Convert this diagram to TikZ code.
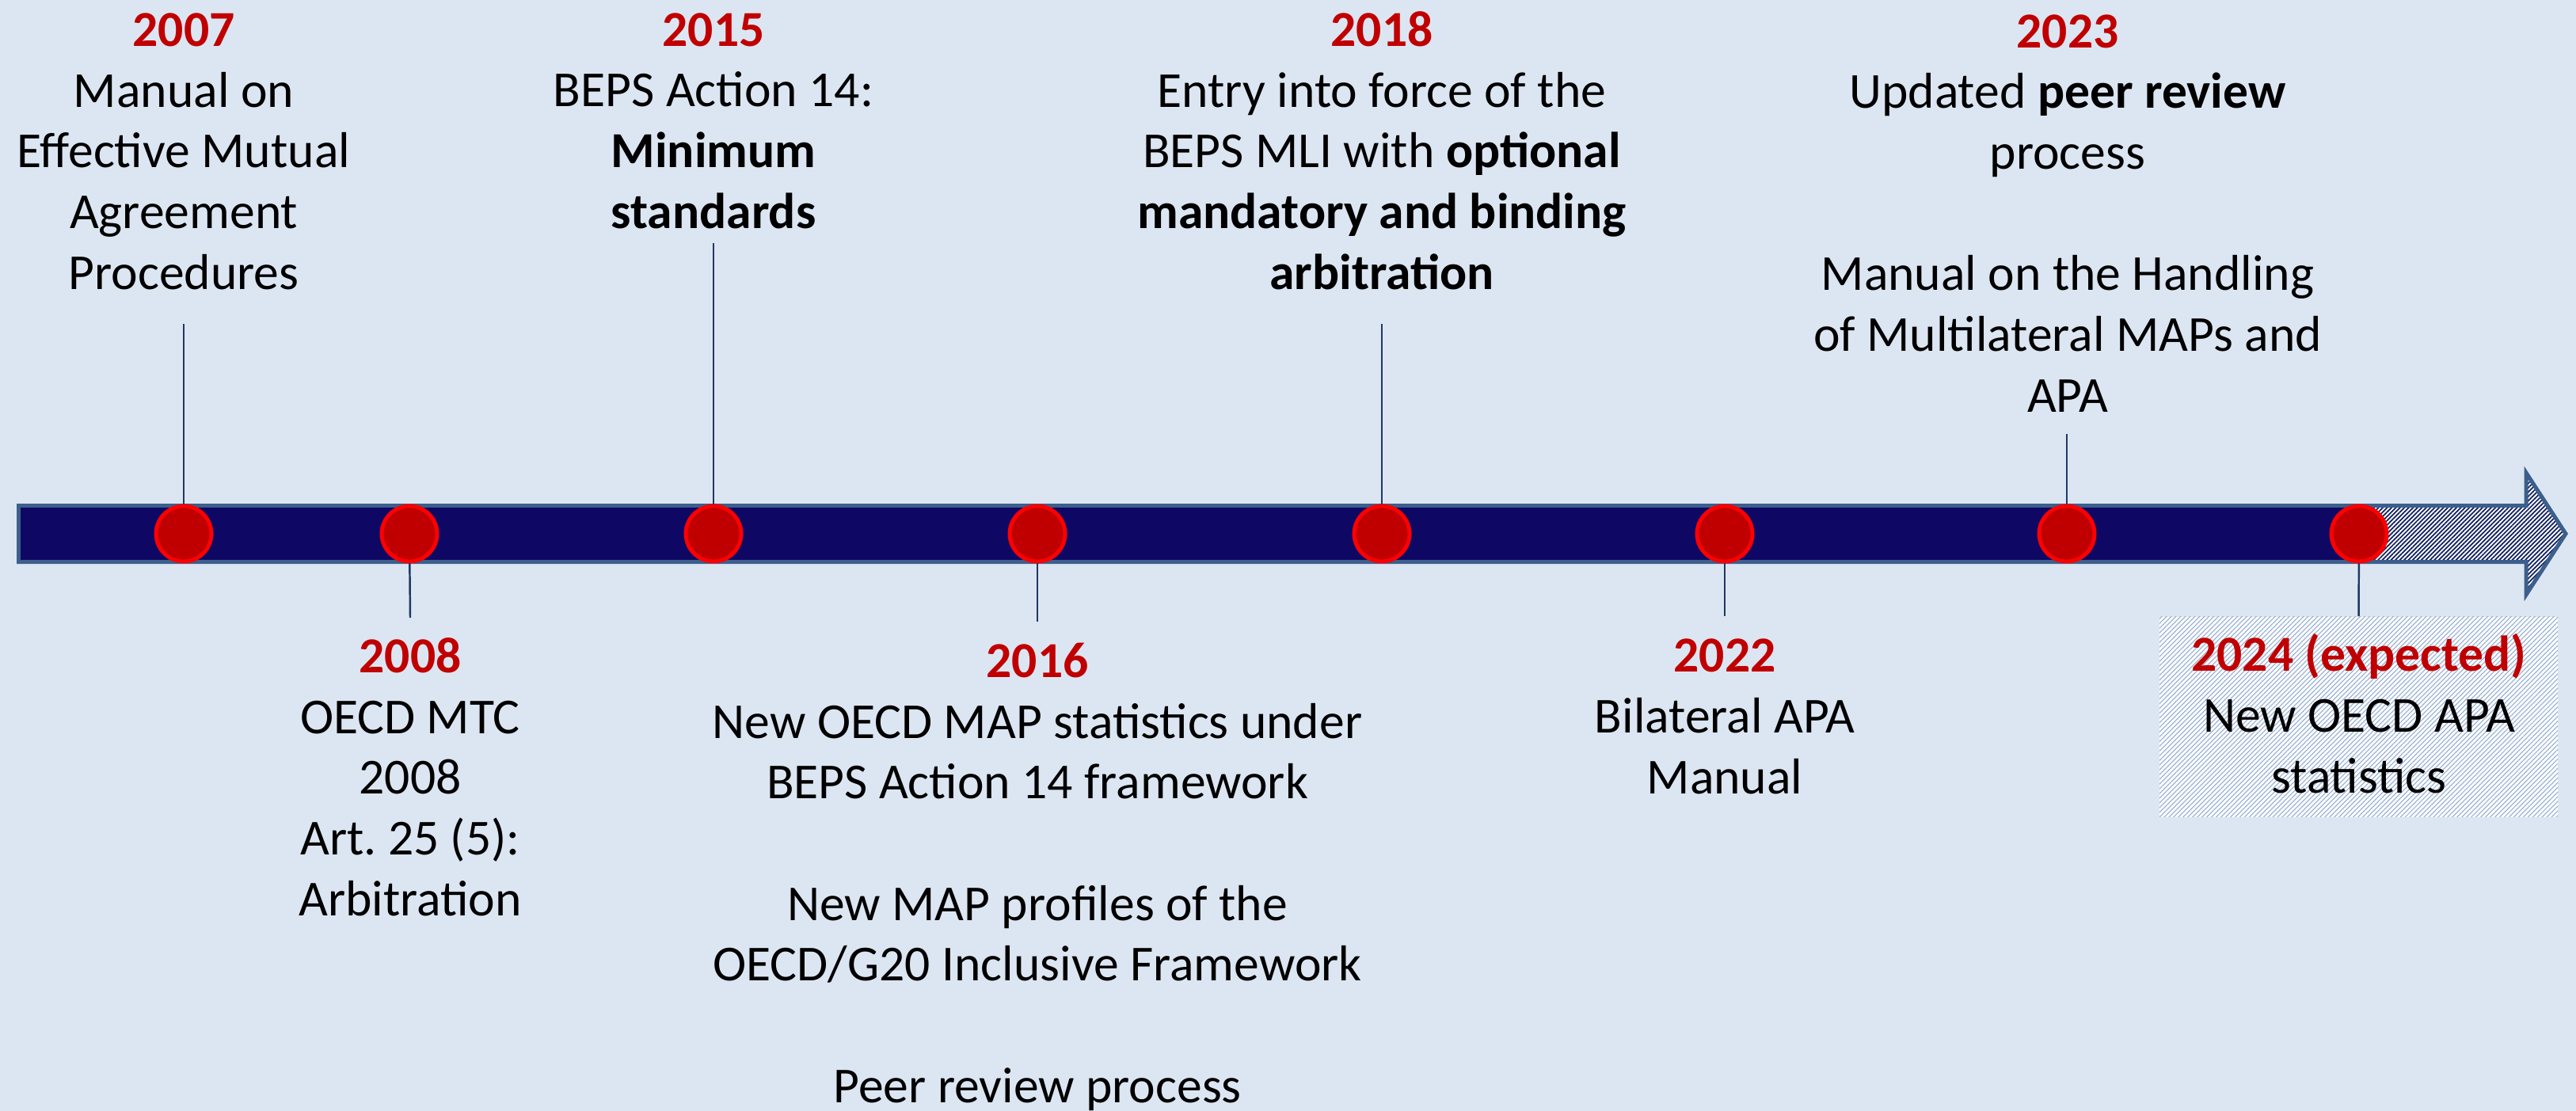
\documentclass[tikz,border=0pt]{standalone}
\usepackage{fontspec}
\setmainfont{Carlito}
\usetikzlibrary{patterns.meta}
\definecolor{bg}{HTML}{DCE6F2}
\definecolor{barnavy}{HTML}{0F0764}
\definecolor{barline}{HTML}{3C5F8C}
\definecolor{hatchnavy}{HTML}{10205E}
\definecolor{boxhatch}{HTML}{9DB3D5}
\definecolor{dotfill}{HTML}{C00000}
\definecolor{dotline}{HTML}{FF0000}
\definecolor{stemcol}{HTML}{1F3864}
\definecolor{yearred}{HTML}{C00000}
\newcommand{\yr}[1]{\textcolor{yearred}{\bfseries #1}}

\begin{document}
\begin{tikzpicture}[
  event/.style={circle, draw=dotline, fill=dotfill, line width=1.4pt, inner sep=0pt, minimum size=0.70cm},
  txt/.style={align=center, anchor=base, inner sep=0pt, font=\fontsize{18.1}{21.8}\selectfont},
  stemline/.style={draw=stemcol, line width=0.7pt},
  expbox/.style={inner sep=0pt, minimum width=5.03cm, minimum height=2.53cm, fill=white,
    postaction={pattern={Lines[angle=45,distance=1.2pt,line width=0.35pt]}, pattern color=boxhatch}}
  ]
\useasboundingbox (0,0) rectangle (32.53,-14.03);
\fill[bg] (0,0) rectangle (32.53,-14.03);

\fill[barnavy] (0.235,-6.385) rectangle (29.79,-7.095);
\path[fill=white, postaction={pattern={Lines[angle=45,distance=1.1pt,line width=0.5pt]}, pattern color=hatchnavy}]
  (29.79,-6.385) -- (31.90,-6.385) -- (31.90,-5.97) -- (32.40,-6.74) -- (31.90,-7.51) -- (31.90,-7.095) -- (29.79,-7.095) -- cycle;
\draw[barline, line width=1.42pt, line join=miter]
  (0.235,-6.385) -- (31.90,-6.385) -- (31.90,-5.97) -- (32.40,-6.74) -- (31.90,-7.51) -- (31.90,-7.095) -- (0.235,-7.095) -- cycle;

\node[expbox, anchor=north] (b2024) at (29.785,-7.78) {};

\node[event] (d2007) at (2.32,-6.74) {};
\node[event] (d2008) at (5.17,-6.74) {};
\node[event] (d2015) at (9.01,-6.74) {};
\node[event] (d2016) at (13.10,-6.74) {};
\node[event] (d2018) at (17.45,-6.74) {};
\node[event] (d2022) at (21.78,-6.74) {};
\node[event] (d2023) at (26.10,-6.74) {};
\node[event] (d2024) at (29.79,-6.74) {};

\coordinate (s2007) at (2.32,-4.09);
\coordinate (s2008) at (5.18,-7.80);
\coordinate (s2015) at (9.01,-3.07);
\coordinate (s2016) at (13.10,-7.85);
\coordinate (s2018) at (17.45,-4.09);
\coordinate (s2022) at (21.78,-7.78);
\coordinate (s2023) at (26.10,-5.48);
\path[stemline] (s2007) -- (d2007);
\path[stemline] (s2008) -- (d2008);
\path[stemline] (s2015) -- (d2015);
\path[stemline] (s2016) -- (d2016);
\path[stemline] (s2018) -- (d2018);
\path[stemline] (s2022) -- (d2022);
\path[stemline] (s2023) -- (d2023);
\path[stemline] (b2024.north) -- (d2024);

\node[txt] (l2007) at (2.32,-3.65) {\yr{2007}\\Manual on\\Effective Mutual\\Agreement\\Procedures};
\node[txt] (l2015) at (9.01,-2.88) {\yr{2015}\\BEPS Action 14:\\\textbf{Minimum}\\\textbf{standards}};
\node[txt] (l2018) at (17.45,-3.65) {\yr{2018}\\Entry into force of the\\BEPS MLI with \textbf{optional}\\\textbf{mandatory and binding}\\\textbf{arbitration}};
\node[txt] (l2023) at (26.11,-5.20) {\yr{2023}\\Updated \textbf{peer review}\\process\\[21.8pt]Manual on the Handling\\of Multilateral MAPs and\\APA};
\node[txt] (l2008) at (5.18,-11.56) {\yr{2008}\\OECD MTC\\2008\\Art.\ 25 (5):\\Arbitration};
\node[txt] (l2016) at (13.10,-13.92) {\yr{2016}\\New OECD MAP statistics under\\BEPS Action 14 framework\\[21.8pt]New MAP profiles of the\\OECD/G20 Inclusive Framework\\[21.8pt]Peer review process};
\node[txt] (l2022) at (21.78,-10.02) {\yr{2022}\\Bilateral APA\\Manual};
\node[txt] (l2024) at (29.79,-10.01) {\yr{2024 (expected)}\\New OECD APA\\statistics};
\end{tikzpicture}
\end{document}
